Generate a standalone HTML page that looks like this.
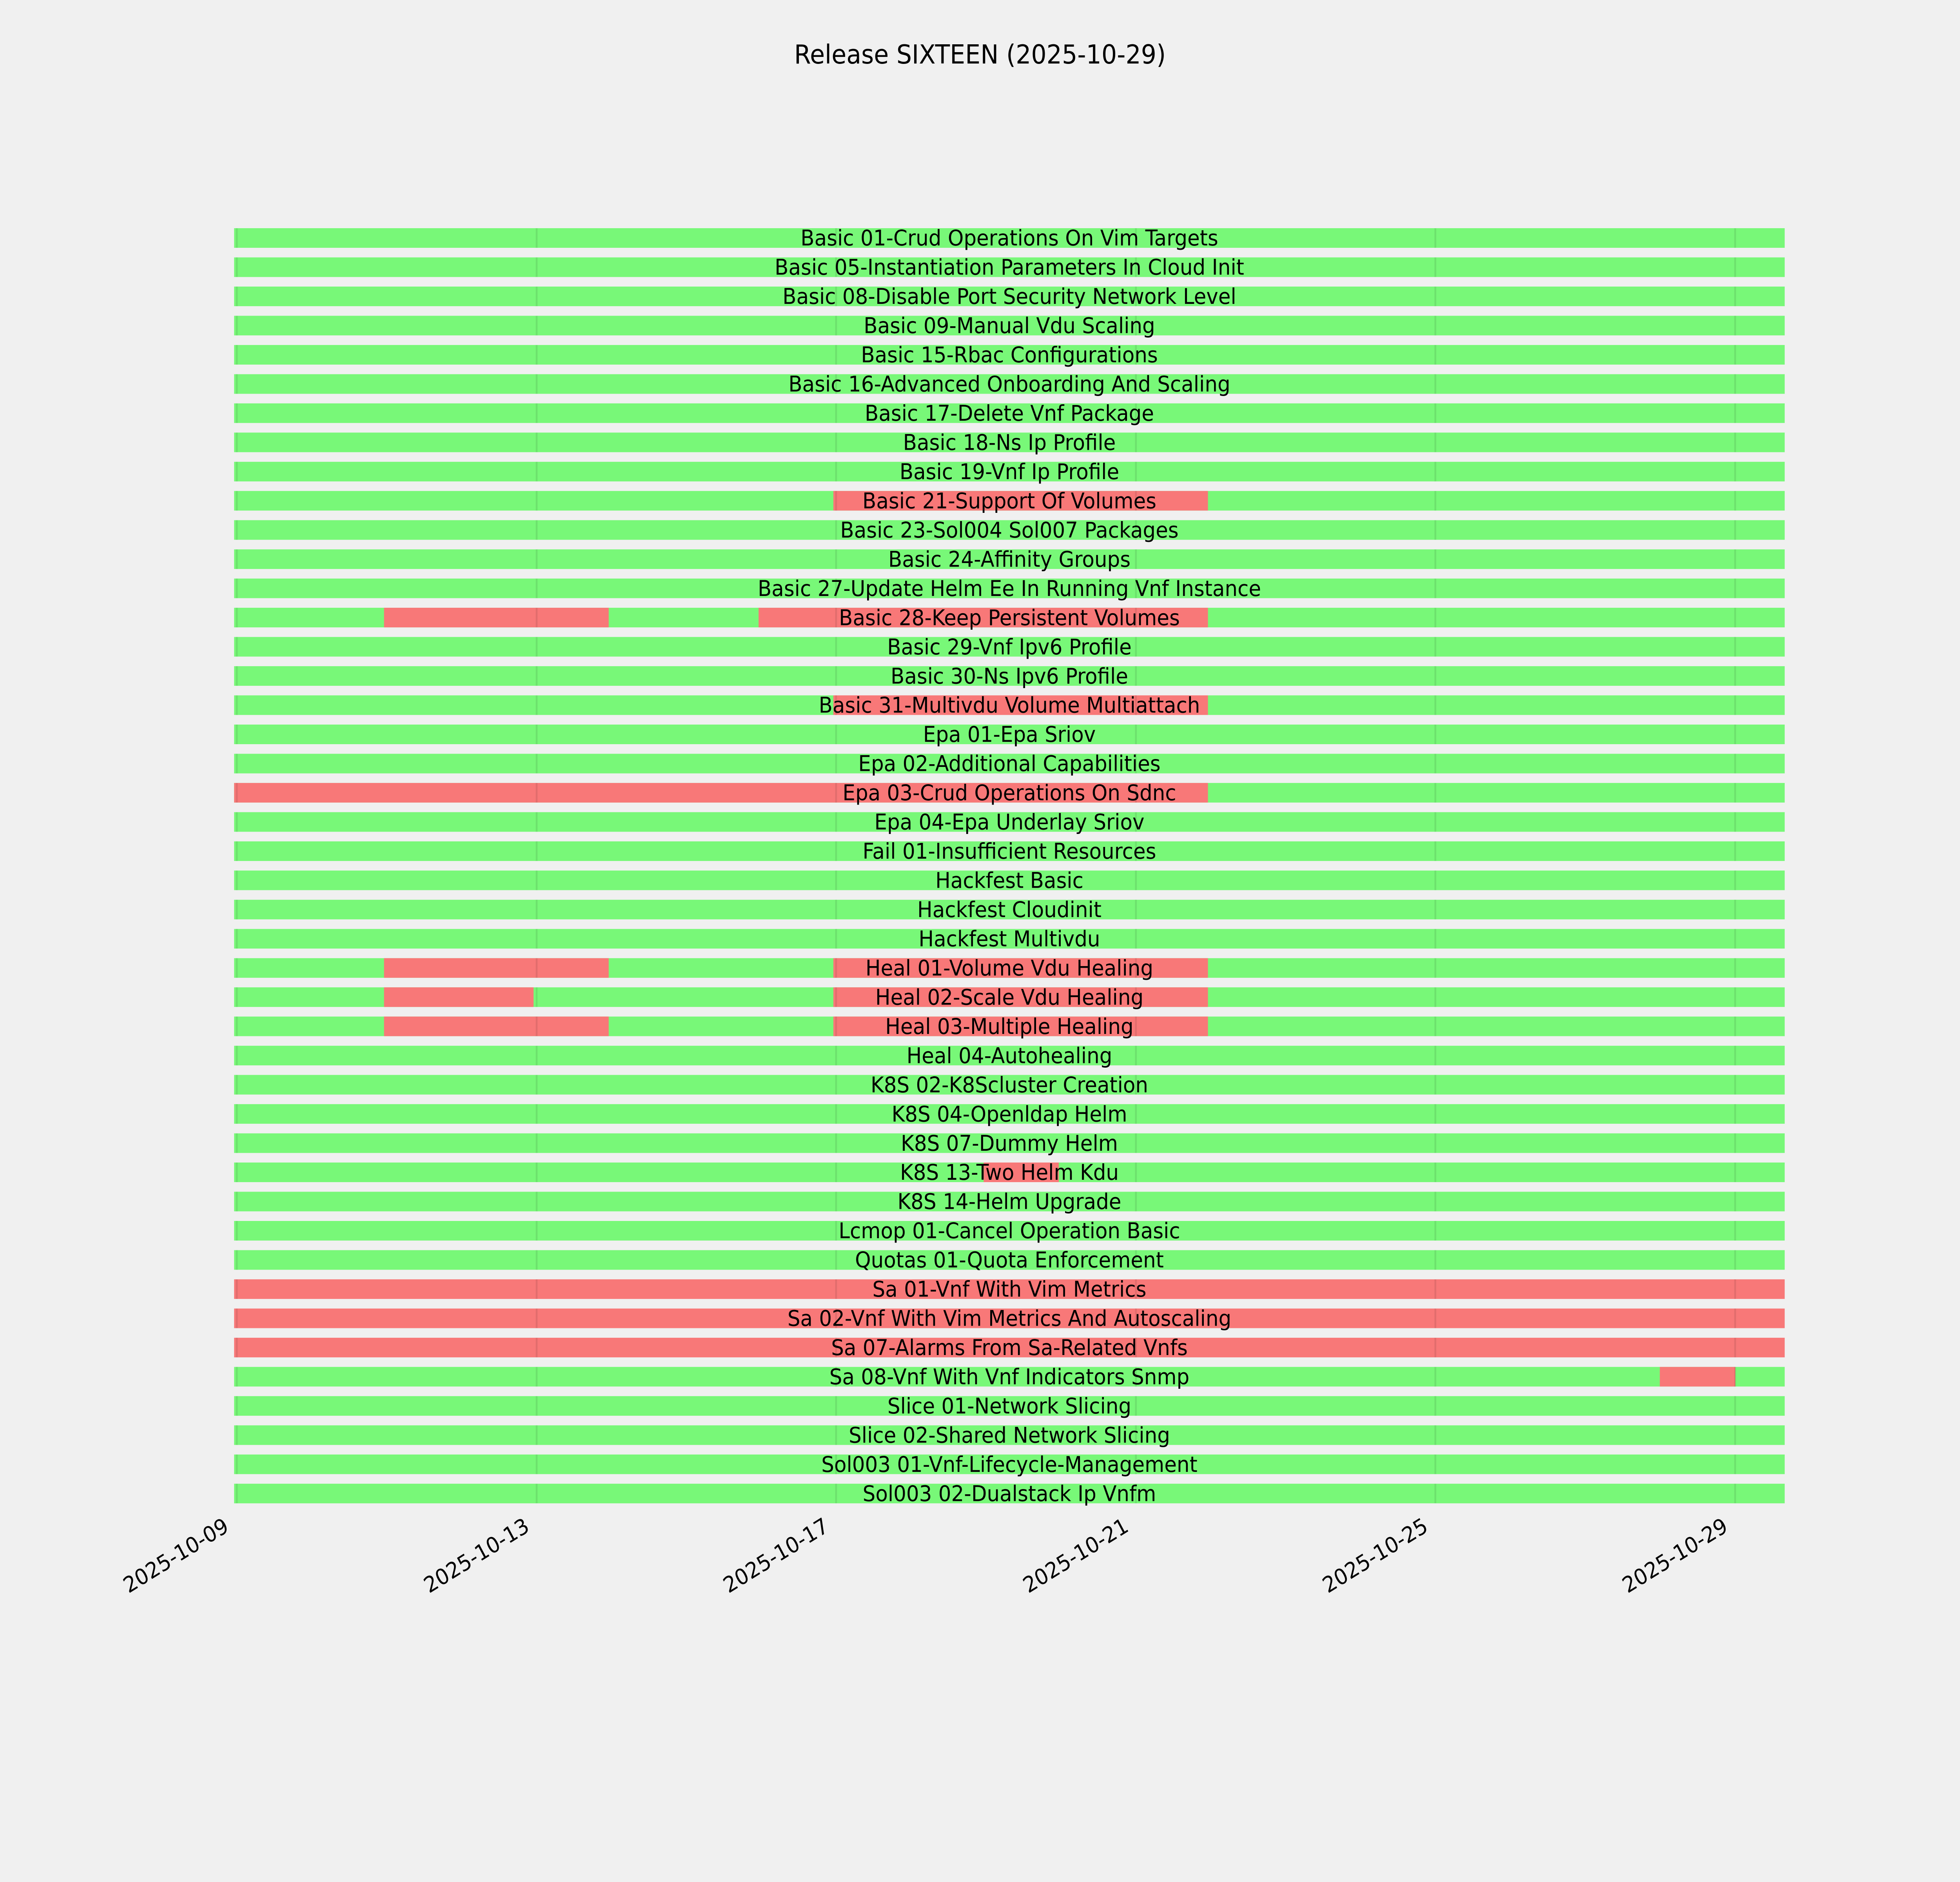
<!DOCTYPE html>
<html><head><meta charset="utf-8"><style>
html,body{margin:0;padding:0;background:#f0f0f0;width:100%;height:100%;overflow:hidden;}
svg{display:block;position:absolute;left:0;top:0;width:100vw;height:100vh;}
text{font-family:"DejaVu Sans","Liberation Sans",sans-serif;fill:#000;}
.l{font-size:55.6px;text-anchor:middle;dominant-baseline:central;}
.t{font-size:55.6px;text-anchor:end;}
.g{fill:#78f878;}
.r{fill:#f87878;}
</style></head><body>
<svg viewBox="0 0 5400 4800" preserveAspectRatio="none" xmlns="http://www.w3.org/2000/svg" overflow="hidden">
<defs>
<pattern id="stripe" patternUnits="userSpaceOnUse" x="0" y="582" width="10" height="74.47">
<rect x="0" y="0" width="10" height="50" fill="rgba(0,0,0,0.09)"/>
</pattern>
</defs>
<rect width="5400" height="4800" fill="#f0f0f0"/>
<text x="2700" y="162" style="font-size:66.7px;text-anchor:middle">Release SIXTEEN (2025-10-29)</text>

<g transform="translate(0,582)"><rect class="g" x="645" y="0" width="4272" height="50"/><text class="l" x="2781" y="25">Basic 01-Crud Operations On Vim Targets</text></g>
<g transform="translate(0,656.5)"><rect class="g" x="645" y="0" width="4272" height="50"/><text class="l" x="2781" y="25">Basic 05-Instantiation Parameters In Cloud Init</text></g>
<g transform="translate(0,730.9)"><rect class="g" x="645" y="0" width="4272" height="50"/><text class="l" x="2781" y="25">Basic 08-Disable Port Security Network Level</text></g>
<g transform="translate(0,805.4)"><rect class="g" x="645" y="0" width="4272" height="50"/><text class="l" x="2781" y="25">Basic 09-Manual Vdu Scaling</text></g>
<g transform="translate(0,879.9)"><rect class="g" x="645" y="0" width="4272" height="50"/><text class="l" x="2781" y="25">Basic 15-Rbac Configurations</text></g>
<g transform="translate(0,954.4)"><rect class="g" x="645" y="0" width="4272" height="50"/><text class="l" x="2781" y="25">Basic 16-Advanced Onboarding And Scaling</text></g>
<g transform="translate(0,1028.8)"><rect class="g" x="645" y="0" width="4272" height="50"/><text class="l" x="2781" y="25">Basic 17-Delete Vnf Package</text></g>
<g transform="translate(0,1103.3)"><rect class="g" x="645" y="0" width="4272" height="50"/><text class="l" x="2781" y="25">Basic 18-Ns Ip Profile</text></g>
<g transform="translate(0,1177.8)"><rect class="g" x="645" y="0" width="4272" height="50"/><text class="l" x="2781" y="25">Basic 19-Vnf Ip Profile</text></g>
<g transform="translate(0,1252.2)"><rect class="g" x="645" y="0" width="4272" height="50"/><rect class="r" x="2296" y="0" width="1032" height="50"/><text class="l" x="2781" y="25">Basic 21-Support Of Volumes</text></g>
<g transform="translate(0,1326.7)"><rect class="g" x="645" y="0" width="4272" height="50"/><text class="l" x="2781" y="25">Basic 23-Sol004 Sol007 Packages</text></g>
<g transform="translate(0,1401.2)"><rect class="g" x="645" y="0" width="4272" height="50"/><text class="l" x="2781" y="25">Basic 24-Affinity Groups</text></g>
<g transform="translate(0,1475.6)"><rect class="g" x="645" y="0" width="4272" height="50"/><text class="l" x="2781" y="25">Basic 27-Update Helm Ee In Running Vnf Instance</text></g>
<g transform="translate(0,1550.1)"><rect class="g" x="645" y="0" width="4272" height="50"/><rect class="r" x="1058" y="0" width="619" height="50"/><rect class="r" x="2090" y="0" width="1238" height="50"/><text class="l" x="2781" y="25">Basic 28-Keep Persistent Volumes</text></g>
<g transform="translate(0,1624.6)"><rect class="g" x="645" y="0" width="4272" height="50"/><text class="l" x="2781" y="25">Basic 29-Vnf Ipv6 Profile</text></g>
<g transform="translate(0,1699.1)"><rect class="g" x="645" y="0" width="4272" height="50"/><text class="l" x="2781" y="25">Basic 30-Ns Ipv6 Profile</text></g>
<g transform="translate(0,1773.5)"><rect class="g" x="645" y="0" width="4272" height="50"/><rect class="r" x="2296" y="0" width="1032" height="50"/><text class="l" x="2781" y="25">Basic 31-Multivdu Volume Multiattach</text></g>
<g transform="translate(0,1848)"><rect class="g" x="645" y="0" width="4272" height="50"/><text class="l" x="2781" y="25">Epa 01-Epa Sriov</text></g>
<g transform="translate(0,1922.5)"><rect class="g" x="645" y="0" width="4272" height="50"/><text class="l" x="2781" y="25">Epa 02-Additional Capabilities</text></g>
<g transform="translate(0,1996.9)"><rect class="g" x="645" y="0" width="4272" height="50"/><rect class="r" x="645" y="0" width="2683" height="50"/><text class="l" x="2781" y="25">Epa 03-Crud Operations On Sdnc</text></g>
<g transform="translate(0,2071.4)"><rect class="g" x="645" y="0" width="4272" height="50"/><text class="l" x="2781" y="25">Epa 04-Epa Underlay Sriov</text></g>
<g transform="translate(0,2145.9)"><rect class="g" x="645" y="0" width="4272" height="50"/><text class="l" x="2781" y="25">Fail 01-Insufficient Resources</text></g>
<g transform="translate(0,2220.3)"><rect class="g" x="645" y="0" width="4272" height="50"/><text class="l" x="2781" y="25">Hackfest Basic</text></g>
<g transform="translate(0,2294.8)"><rect class="g" x="645" y="0" width="4272" height="50"/><text class="l" x="2781" y="25">Hackfest Cloudinit</text></g>
<g transform="translate(0,2369.3)"><rect class="g" x="645" y="0" width="4272" height="50"/><text class="l" x="2781" y="25">Hackfest Multivdu</text></g>
<g transform="translate(0,2443.8)"><rect class="g" x="645" y="0" width="4272" height="50"/><rect class="r" x="1058" y="0" width="619" height="50"/><rect class="r" x="2296" y="0" width="1032" height="50"/><text class="l" x="2781" y="25">Heal 01-Volume Vdu Healing</text></g>
<g transform="translate(0,2518.2)"><rect class="g" x="645" y="0" width="4272" height="50"/><rect class="r" x="1058" y="0" width="412" height="50"/><rect class="r" x="2296" y="0" width="1032" height="50"/><text class="l" x="2781" y="25">Heal 02-Scale Vdu Healing</text></g>
<g transform="translate(0,2592.7)"><rect class="g" x="645" y="0" width="4272" height="50"/><rect class="r" x="1058" y="0" width="619" height="50"/><rect class="r" x="2296" y="0" width="1032" height="50"/><text class="l" x="2781" y="25">Heal 03-Multiple Healing</text></g>
<g transform="translate(0,2667.2)"><rect class="g" x="645" y="0" width="4272" height="50"/><text class="l" x="2781" y="25">Heal 04-Autohealing</text></g>
<g transform="translate(0,2741.6)"><rect class="g" x="645" y="0" width="4272" height="50"/><text class="l" x="2781" y="25">K8S 02-K8Scluster Creation</text></g>
<g transform="translate(0,2816.1)"><rect class="g" x="645" y="0" width="4272" height="50"/><text class="l" x="2781" y="25">K8S 04-Openldap Helm</text></g>
<g transform="translate(0,2890.6)"><rect class="g" x="645" y="0" width="4272" height="50"/><text class="l" x="2781" y="25">K8S 07-Dummy Helm</text></g>
<g transform="translate(0,2965)"><rect class="g" x="645" y="0" width="4272" height="50"/><rect class="r" x="2710" y="0" width="207" height="50"/><text class="l" x="2781" y="25">K8S 13-Two Helm Kdu</text></g>
<g transform="translate(0,3039.5)"><rect class="g" x="645" y="0" width="4272" height="50"/><text class="l" x="2781" y="25">K8S 14-Helm Upgrade</text></g>
<g transform="translate(0,3114)"><rect class="g" x="645" y="0" width="4272" height="50"/><text class="l" x="2781" y="25">Lcmop 01-Cancel Operation Basic</text></g>
<g transform="translate(0,3188.5)"><rect class="g" x="645" y="0" width="4272" height="50"/><text class="l" x="2781" y="25">Quotas 01-Quota Enforcement</text></g>
<g transform="translate(0,3262.9)"><rect class="r" x="645" y="0" width="4272" height="50"/><text class="l" x="2781" y="25">Sa 01-Vnf With Vim Metrics</text></g>
<g transform="translate(0,3337.4)"><rect class="r" x="645" y="0" width="4272" height="50"/><text class="l" x="2781" y="25">Sa 02-Vnf With Vim Metrics And Autoscaling</text></g>
<g transform="translate(0,3411.9)"><rect class="r" x="645" y="0" width="4272" height="50"/><text class="l" x="2781" y="25">Sa 07-Alarms From Sa-Related Vnfs</text></g>
<g transform="translate(0,3486.3)"><rect class="g" x="645" y="0" width="4272" height="50"/><rect class="r" x="4573" y="0" width="208" height="50"/><text class="l" x="2781" y="25">Sa 08-Vnf With Vnf Indicators Snmp</text></g>
<g transform="translate(0,3560.8)"><rect class="g" x="645" y="0" width="4272" height="50"/><text class="l" x="2781" y="25">Slice 01-Network Slicing</text></g>
<g transform="translate(0,3635.3)"><rect class="g" x="645" y="0" width="4272" height="50"/><text class="l" x="2781" y="25">Slice 02-Shared Network Slicing</text></g>
<g transform="translate(0,3709.7)"><rect class="g" x="645" y="0" width="4272" height="50"/><text class="l" x="2781" y="25">Sol003 01-Vnf-Lifecycle-Management</text></g>
<g transform="translate(0,3784.2)"><rect class="g" x="645" y="0" width="4272" height="50"/><text class="l" x="2781" y="25">Sol003 02-Dualstack Ip Vnfm</text></g>

<g fill="url(#stripe)">
<rect x="650" y="582" width="5" height="3252"/>
<rect x="1476" y="582" width="5" height="3252"/>
<rect x="2301" y="582" width="5" height="3252"/>
<rect x="3127" y="582" width="5" height="3252"/>
<rect x="3952" y="582" width="5" height="3252"/>
<rect x="4778" y="582" width="5" height="3252"/>
</g>

<text class="t" transform="translate(634,3903) rotate(-30)">2025-10-09</text>
<text class="t" transform="translate(1462,3903) rotate(-30)">2025-10-13</text>
<text class="t" transform="translate(2287,3903) rotate(-30)">2025-10-17</text>
<text class="t" transform="translate(3113,3903) rotate(-30)">2025-10-21</text>
<text class="t" transform="translate(3938,3903) rotate(-30)">2025-10-25</text>
<text class="t" transform="translate(4764,3903) rotate(-30)">2025-10-29</text>
</svg>
</body></html>
